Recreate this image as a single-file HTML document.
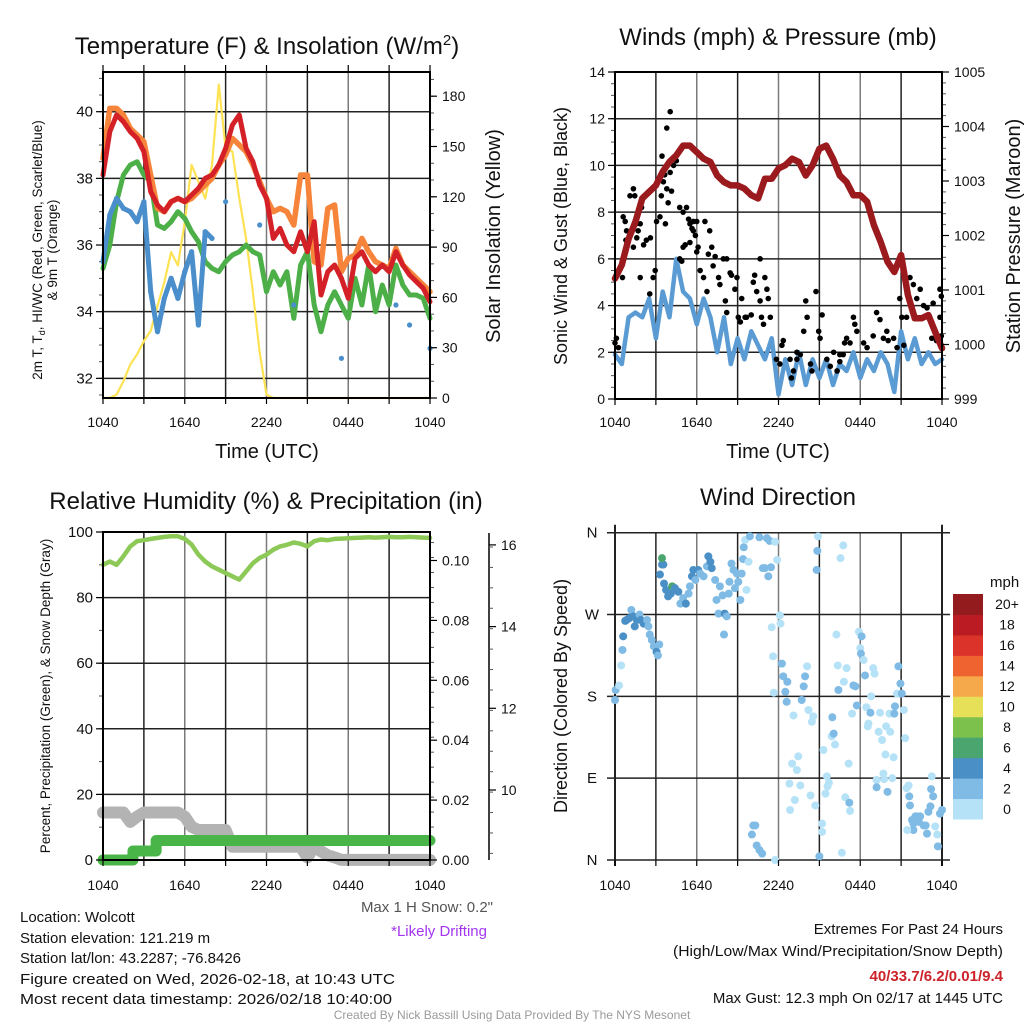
<!DOCTYPE html>
<html><head><meta charset="utf-8"><style>
html,body{margin:0;padding:0;background:#fff;}
svg{display:block;font-family:"Liberation Sans",sans-serif;}
</style></head><body>
<svg id="chart" xmlns="http://www.w3.org/2000/svg" width="1024" height="1024" viewBox="0 0 1024 1024">
<rect x="0" y="0" width="1024" height="1024" fill="#fff"/>
<g id="p1"></g>
<g id="p2"></g>
<g id="p3"></g>
<g id="p4"></g>
<g font-size="24" text-anchor="middle" fill="#111">
<text x="267" y="54">Temperature (F) &amp; Insolation (W/m<tspan dy="-9" font-size="15">2</tspan><tspan dy="9">)</tspan></text>
<text x="778" y="45">Winds (mph) &amp; Pressure (mb)</text>
<text x="266" y="509">Relative Humidity (%) &amp; Precipitation (in)</text>
<text x="778" y="505">Wind Direction</text>
</g>
<g fill="#111">
<text transform="translate(42,250) rotate(-90)" text-anchor="middle" font-size="13.5">2m T, T<tspan dy="3" font-size="9">d</tspan><tspan dy="-3">, HI/WC (Red, Green, Scarlet/Blue)</tspan></text>
<text transform="translate(57,250) rotate(-90)" text-anchor="middle" font-size="13.5">&amp; 9m T (Orange)</text>
<text transform="translate(500,236) rotate(-90)" text-anchor="middle" font-size="20">Solar Insolation (Yellow)</text>
<text x="267" y="458" text-anchor="middle" font-size="20">Time (UTC)</text>
<text transform="translate(567,236) rotate(-90)" text-anchor="middle" font-size="18">Sonic Wind &amp; Gust (Blue, Black)</text>
<text transform="translate(1020,236) rotate(-90)" text-anchor="middle" font-size="20">Station Pressure (Maroon)</text>
<text x="778" y="458" text-anchor="middle" font-size="20">Time (UTC)</text>
<text transform="translate(50,696) rotate(-90)" text-anchor="middle" font-size="13.5">Percent, Precipitation (Green), &amp; Snow Depth (Gray)</text>
<text transform="translate(567,696) rotate(-90)" text-anchor="middle" font-size="18">Direction (Colored By Speed)</text>
<text x="990" y="587" font-size="15">mph</text>
</g>
<g font-size="15" fill="#111">
<text x="20" y="922">Location: Wolcott</text>
<text x="20" y="943">Station elevation: 121.219 m</text>
<text x="20" y="963">Station lat/lon: 43.2287; -76.8426</text>
<text x="20" y="984" textLength="375" lengthAdjust="spacingAndGlyphs">Figure created on Wed, 2026-02-18, at 10:43 UTC</text>
<text x="20" y="1004" textLength="372" lengthAdjust="spacingAndGlyphs">Most recent data timestamp: 2026/02/18 10:40:00</text>
<text x="493" y="912" text-anchor="end" fill="#555">Max 1 H Snow: 0.2"</text>
<text x="487" y="936" text-anchor="end" fill="#a335f0">*Likely Drifting</text>
<text x="1003" y="934" text-anchor="end">Extremes For Past 24 Hours</text>
<text x="1003" y="956" text-anchor="end" textLength="330" lengthAdjust="spacingAndGlyphs">(High/Low/Max Wind/Precipitation/Snow Depth)</text>
<text x="1003" y="981" text-anchor="end" fill="#cc2229" font-weight="bold">40/33.7/6.2/0.01/9.4</text>
<text x="1003" y="1003" text-anchor="end">Max Gust: 12.3 mph On 02/17 at 1445 UTC</text>
<text x="512" y="1019" text-anchor="middle" font-size="12" fill="#9a9a9a">Created By Nick Bassill Using Data Provided By The NYS Mesonet</text>
</g>
</svg>
<script>
// ---------- shared time categories (hours since 1040 UTC) ----------
const halfHours = [0,0.5,1,1.5,2,2.5,3,3.5,4,4.5,5,5.5,6,6.5,7,7.5,8,8.5,9,9.5,10,10.5,11,11.5,12,12.5,13,13.5,14,14.5,15,15.5,16,16.5,17,17.5,18,18.5,19,19.5,20,20.5,21,21.5,22,22.5,23,23.5,24];
const timeTickHours = [0,6,12,18,24];
const timeTickLabels = ["1040","1640","2240","0440","1040"];
// ---------- panel 1 ----------
const temp9m = [38.6,40.1,40.1,39.9,39.5,39.3,39.1,38.1,37.1,37.0,37.3,37.4,37.3,37.4,37.6,37.8,38.0,38.4,38.7,39.2,39.0,38.8,38.4,37.9,37.4,37.0,37.1,37.0,36.6,38.1,38.1,35.5,35.4,37.1,37.2,35.2,35.6,35.7,36.2,35.8,35.5,35.4,35.3,35.9,35.4,35.2,35.0,34.8,34.6];
const temp2m = [38.1,39.4,39.9,39.7,39.4,39.2,38.8,37.6,37.2,37.0,37.3,37.4,37.3,37.5,37.7,38.0,38.1,38.4,38.9,39.6,39.9,38.9,38.5,37.8,37.4,36.2,36.5,36.0,35.8,36.4,35.8,36.7,34.5,35.2,35.4,35.0,34.4,35.6,35.8,35.4,35.2,35.4,35.2,35.8,35.4,35.1,34.9,34.7,34.3];
const dewPoint = [35.3,36.0,37.3,38.1,38.4,38.5,38.1,37.9,36.6,36.5,36.7,37.0,36.8,36.4,36.1,35.5,35.3,35.2,35.5,35.7,35.8,36.0,35.8,35.7,34.6,35.2,34.8,35.2,33.8,35.4,35.8,34.2,33.4,34.2,34.6,34.2,33.8,35.0,34.2,35.4,34.0,34.8,34.2,35.4,34.8,34.5,34.5,34.4,33.8];
const windChill = [35.5,36.9,37.4,37.1,37.0,36.7,37.3,34.6,33.4,34.4,35.0,34.4,35.2,35.8,33.6,36.4,36.2,null,37.3,null,null,null,null,36.6,null,null,null,null,34.2,null,null,null,null,null,null,32.6,null,null,null,null,null,null,null,34.2,null,33.6,null,null,32.9];
const solar = [0,0,2,10,20,26,34,40,55,69,87,79,105,139,129,119,139,187,149,147,119,95,63,27,2,0,0,0,0,0,0,0,0,0,0,0,0,0,0,0,0,0,0,0,0,0,0,0,0];
const tempTicks = [32,34,36,38,40];
const solarTicks = [0,30,60,90,120,150,180];
// ---------- panel 2 ----------
const sonicWind = [1.9,1.5,3.5,3.7,3.5,4.3,2.6,4.6,3.5,6.0,4.6,4.3,3.2,4.3,3.5,2.0,3.5,1.5,2.6,1.7,2.9,2.3,1.7,2.6,0.2,1.7,0.6,2.0,0.6,1.7,0.9,1.7,0.6,1.5,1.2,2.0,0.9,1.7,1.2,2.0,1.5,0.3,2.9,1.7,2.6,1.5,2.0,1.5,1.7];
const pressure = [1001.21,1001.46,1001.94,1002.25,1002.68,1002.80,1002.92,1003.17,1003.35,1003.47,1003.65,1003.65,1003.53,1003.41,1003.35,1003.10,1002.98,1002.92,1002.92,1002.86,1002.74,1002.68,1003.04,1003.04,1003.23,1003.29,1003.41,1003.35,1003.10,1003.29,1003.59,1003.65,1003.41,1003.10,1002.98,1002.74,1002.74,1002.62,1002.19,1001.88,1001.52,1001.33,1001.64,1000.91,1000.48,1000.48,1000.54,1000.23,999.93];
const gustHours = [0,0.1,0.25,0.55,0.6,0.75,0.85,0.8,1.1,1.35,1.45,1.55,1.7,1.85,1.95,1.35,1.6,2.1,2.3,2.6,1.85,2.55,2.8,2.95,3.05,3.3,3.4,3.55,3.65,3.8,3.9,4.05,4.15,4.3,3.8,4.05,3.45,3.7,4.5,4.75,5.0,5.25,5.4,5.5,5.65,5.75,5.9,6.0,5.0,5.15,5.5,5.75,6.0,6.1,4.75,4.9,6.6,6.95,6.85,7.1,7.35,7.95,8.2,6.25,6.5,6.75,7.2,7.6,7.7,8.1,8.2,8.45,8.55,8.8,8.95,9.3,9.55,9.05,9.2,9.65,10.15,10.25,10.4,10.65,10.75,11.0,11.15,11.25,11.4,10.0,10.65,10.9,11.85,12.1,12.25,12.35,12.85,12.95,13.1,13.35,13.6,13.85,14.0,14.1,14.35,14.45,14.75,14.95,15.05,15.2,15.55,15.8,16.05,16.3,16.5,16.75,16.85,17.0,17.25,17.5,17.6,17.75,18.25,18.5,18.95,19.2,19.45,19.7,19.95,20.05,20.45,20.7,20.9,21.05,21.2,21.4,21.65,21.9,22.15,22.4,22.65,22.9,23.1,23.25,23.35,23.6,23.85,23.95,23.85,23.95,16.5,13.35];
const gustMph = [2.4,2.6,2.2,5.2,7.8,7.6,7.2,6.8,8.7,9.0,8.7,7.5,7.2,7.5,8.2,6.5,6.9,6.6,6.8,6.9,5.2,4.5,5.2,5.5,7.6,7.8,8.7,9.3,9.6,9.0,8.4,9.7,8.9,10.0,11.6,12.3,10.4,7.5,10.2,8.2,8.0,8.2,7.7,7.5,7.3,7.6,7.0,7.6,6.5,6.6,6.7,7.2,6.3,6.5,6.0,5.9,7.6,7.2,6.2,6.5,6.1,6.0,6.0,5.5,5.2,4.6,5.7,5.2,4.9,4.2,3.7,5.4,5.3,4.7,5.2,4.3,3.5,3.5,3.3,3.5,5.0,5.3,4.6,4.2,3.5,5.2,4.7,4.3,3.5,3.6,6.0,3.2,1.7,1.5,2.3,2.5,1.7,0.9,1.2,2.0,1.9,2.9,4.2,3.5,1.5,1.2,4.6,2.9,2.6,3.6,1.7,1.4,2.0,1.2,1.6,1.9,2.4,2.6,2.4,3.5,3.2,2.9,2.4,2.2,2.7,3.7,3.4,2.6,2.9,2.5,2.6,2.2,4.3,3.5,2.3,3.5,5.2,4.9,4.3,4.7,4.0,3.9,3.5,2.6,4.1,2.5,4.7,4.4,3.5,2.7,1.9,1.7];
const windTicks = [0,2,4,6,8,10,12,14];
const pressureTicks = [999,1000,1001,1002,1003,1004,1005];
// ---------- panel 3 ----------
const humidity = [90.0,91.0,90.0,92.6,95.6,97.2,97.5,97.9,98.2,98.5,98.7,98.7,97.9,96.2,93.1,91.0,89.5,88.5,87.5,86.5,85.5,88.0,90.5,92.1,93.1,94.6,95.6,96.1,96.8,96.4,95.6,97.2,97.7,97.5,97.9,98.0,98.1,98.2,98.3,98.4,98.3,98.4,98.5,98.4,98.4,98.5,98.4,98.3,98.2];
const snowDepth = [9.45,9.45,9.45,9.45,9.22,9.35,9.45,9.45,9.45,9.45,9.45,9.45,9.35,9.1,9.02,9.02,9.02,9.02,9.02,8.61,8.61,8.61,8.61,8.61,8.61,8.61,8.61,8.61,8.61,8.61,8.35,8.61,8.5,8.4,8.35,8.29,8.29,8.29,8.29,8.29,8.29,8.29,8.29,8.29,8.29,8.29,8.29,8.29,8.29];
const precipStepHours = [0,2.2,3.9,24];
const precipInches = [0,0.003,0.0065,0.0065];
const percentTicks = [0,20,40,60,80,100];
const precipTicks = [0.00,0.02,0.04,0.06,0.08,0.10];
const precipTickLabels = ["0.00","0.02","0.04","0.06","0.08","0.10"];
const snowTicks = [10,12,14,16];
// ---------- panel 4 ----------
const dirHours = [0,0.05,0.3,0.45,0.55,0.6,0.75,0.85,1.05,1.2,1.35,1.45,1.6,1.8,1.9,2.1,2.35,2.45,2.55,2.7,2.85,3.05,3.15,3.25,3.3,3.45,3.55,3.45,3.6,3.75,3.9,4.1,4.2,4.4,4.65,4.8,5.0,5.2,5.4,5.5,5.65,5.75,5.9,6.1,6.25,6.5,6.75,6.85,7.0,7.1,7.35,7.45,7.6,7.7,7.9,8.05,8.2,8.0,8.35,8.4,8.55,8.7,8.8,8.95,9.05,9.2,9.3,9.4,9.45,9.55,9.65,9.8,9.9,10.15,10.05,10.3,10.4,10.6,10.8,10.6,10.85,11.0,11.15,11.25,11.35,11.45,11.5,11.6,11.65,11.75,11.75,11.9,12.1,12.15,12.25,12.35,12.5,12.6,12.65,12.85,12.8,13.0,13.1,13.2,13.35,13.45,13.6,13.7,13.85,13.95,14.1,14.2,14.35,14.45,14.55,14.7,14.8,14.85,14.9,15.0,15.2,15.2,15.3,15.45,15.55,15.6,15.7,15.9,15.95,16.05,16.15,16.25,16.35,16.4,16.55,16.65,16.75,16.8,16.9,17.0,17.15,17.2,17.25,17.4,17.5,17.65,17.75,17.9,18.0,18.1,18.05,18.25,18.35,18.45,18.55,18.6,18.75,18.8,18.95,19.05,19.2,19.2,19.35,19.45,19.6,19.7,19.75,19.85,19.9,20.0,20.15,20.2,20.35,20.45,20.5,20.55,20.7,20.8,20.95,21.05,21.2,21.3,21.4,21.55,21.6,21.65,21.8,21.9,22.05,22.15,22.3,22.4,22.65,22.8,22.9,23.0,23.15,23.25,23.2,23.35,23.5,23.65,23.7,23.85,24.0,21.45,21.9];
const dirDegrees = [176,187,192,214,231,246,263,264,266,275,268,257,264,270,264,260,264,257,248,242,235,229,225,237,314,325,325,332,304,297,290,293,301,299,295,282,288,282,293,301,312,319,308,319,315,312,323,334,328,321,308,286,271,301,291,271,268,248,293,306,326,319,299,315,306,286,315,331,344,352,297,328,356,38,28,38,16,11,7,355,321,321,354,312,351,322,256,224,184,350,0,330,269,260,216,202,185,174,196,55,84,106,159,66,99,114,82,176,191,202,213,165,71,152,158,60,319,340,356,4,40,31,121,73,92,81,85,136,157,139,127,248,214,187,332,8,346,196,69,211,106,63,54,161,192,191,170,251,233,246,227,220,203,168,147,150,162,180,211,205,88,80,141,162,132,95,89,116,147,75,161,141,90,113,161,169,183,213,194,183,165,134,79,82,70,60,44,33,48,48,42,48,38,38,29,53,59,92,78,70,37,28,15,51,55,33,40];
const dirSpeed = [3,3,1,1,3,5,5,5,5,3,5,5,5,3,5,5,3,3,3,3,3,5,3,3,5,5,5,7,5,5,5,5,7,5,5,3,3,5,3,3,5,5,3,5,3,3,3,5,5,5,3,3,3,3,3,5,3,3,3,3,3,3,3,3,3,3,3,3,3,1,1,1,3,3,3,3,3,3,3,3,3,3,3,3,3,3,1,1,1,1,1,1,1,1,3,3,3,3,3,1,1,1,1,1,1,1,1,3,3,3,1,1,1,1,1,1,3,3,1,3,1,1,1,1,1,1,1,1,3,3,1,1,1,3,1,1,1,1,1,1,1,3,1,1,3,3,3,1,1,3,3,1,3,1,1,1,3,1,1,1,1,3,1,1,1,1,1,1,1,3,1,1,1,1,3,3,1,3,3,3,1,1,1,1,3,3,3,3,3,3,3,3,3,3,3,3,3,1,3,3,1,1,3,3,3,1,3];
const dirTicks = [0,90,180,270,360];
const dirTickLabels = ["N","E","S","W","N"];
const speedBinLabels = ["0","2","4","6","8","10","12","14","16","18","20+"];
const speedBinColors = ["#b6e2f7","#7fbbe4","#4a8fc6","#4aa66e","#7dc14d","#e6df58","#f5a94a","#ee6330","#db3229","#bb1c24","#931a1d"];

const NS = "http://www.w3.org/2000/svg";
function mk(parent, tag, attrs, text) {
  const el = document.createElementNS(NS, tag);
  for (const k in attrs) el.setAttribute(k, attrs[k]);
  if (text !== undefined) el.textContent = text;
  parent.appendChild(el);
  return el;
}
function pathFrom(xs, ys, xf, yf) {
  let d = "", pen = false;
  for (let i = 0; i < xs.length; i++) {
    if (ys[i] === null) { pen = false; continue; }
    d += (pen ? "L" : "M") + xf(xs[i]).toFixed(1) + "," + yf(ys[i]).toFixed(1);
    pen = true;
  }
  return d;
}
function frame(g, L, R, T, B, vgrid, hgrid) {
  vgrid.forEach(function (x, i) {
    const l = mk(g, "line", {x1: x, x2: x, y1: T, y2: B, stroke: i % 2 ? "#7a7a7a" : "#222", "stroke-width": 1.5});
    
    
  });
  hgrid.forEach(function (y) {
    const l = mk(g, "line", {x1: L, x2: R, y1: y, y2: y, stroke: "#222", "stroke-width": 1.5});
    
    
  });
}
function border(g, L, R, T, B) {
  const r = mk(g, "rect", {x: L, y: T, width: R - L, height: B - T, fill: "none", stroke: "#000", "stroke-width": 2});
  
  
}
function xTicks(g, xf, B, T, labelY, top) {
  for (let h = 0; h <= 24; h += 3) {
    const x = xf(h);
    const t = mk(g, "line", {x1: x, x2: x, y1: B, y2: B + 6, stroke: "#000", "stroke-width": 1.2});
    
    
    if (top) {
      const t2 = mk(g, "line", {x1: x, x2: x, y1: T - 7, y2: T, stroke: "#000", "stroke-width": 1.2});
      
      
    }
  }
  timeTickHours.forEach(function (h, i) {
    const tx = mk(g, "text", {x: xf(h), y: labelY, "text-anchor": "middle", "font-size": 14, fill: "#111"}, timeTickLabels[i]);
    
    
  });
}
function yTicksLeft(g, vals, labels, yf, L, fs) {
  vals.forEach(function (v, i) {
    const y = yf(v);
    const t = mk(g, "line", {x1: L - 7, x2: L, y1: y, y2: y, stroke: "#000", "stroke-width": 1.2});
    
    
    const tx = mk(g, "text", {x: L - 10, y: y + 5, "text-anchor": "end", "font-size": fs, fill: "#111"}, labels[i]);
    
    
  });
}
function yTicksRight(g, vals, labels, yf, R, fs) {
  vals.forEach(function (v, i) {
    const y = yf(v);
    const t = mk(g, "line", {x1: R, x2: R + 7, y1: y, y2: y, stroke: "#000", "stroke-width": 1.2});
    
    
    const tx = mk(g, "text", {x: R + 12, y: y + 5, "text-anchor": "start", "font-size": fs, fill: "#111"}, labels[i]);
    
    
  });
}
function minorTicks(g, x, y0, y1, step, dir) {
  for (let y = y0; y <= y1 + 0.1; y += step) {
    const t = mk(g, "line", {x1: x, x2: x + dir * 4, y1: y, y2: y, stroke: "#555", "stroke-width": 1});
    
    
  }
}
function line(g, d, color, w, name) {
  const p = mk(g, "path", {d: d, fill: "none", stroke: color, "stroke-width": w, "stroke-linejoin": "round", "stroke-linecap": "round"});
  
  
  return p;
}
const vgridHours = [3,6,9,12,15,18,21];

// ======== PANEL 1 ========
(function () {
  const g = document.getElementById("p1");
  const L = 103, R = 430, T = 72, B = 398;
  const x = function (h) { return L + h / 24 * (R - L); };
  const yT = function (v) { return 111.7 + (40 - v) * 33.33; };
  const yS = function (w) { return B - w / 30 * 50.3; };
  frame(g, L, R, T, B, vgridHours.map(x), tempTicks.map(yT));
  minorTicks(g, L, yT(41), yT(31.5), 33.33 / 2, -1);
  minorTicks(g, R, yS(190), yS(0), 50.3 / 3, 1);
  line(g, pathFrom(halfHours, solar, x, yS), "#fde353", 2.2, "solar-insolation-line");
  line(g, pathFrom(halfHours, dewPoint, x, yT), "#4caf48", 5, "dewpoint-line");
  line(g, pathFrom(halfHours, temp9m, x, yT), "#f6843a", 5.5, "temp-9m-line");
  line(g, pathFrom(halfHours, temp2m, x, yT), "#d42128", 5, "temp-2m-line");
  line(g, pathFrom(halfHours, windChill, x, yT), "#4a8fcb", 5, "wind-chill-line");
  halfHours.forEach(function (h, i) {
    if (windChill[i] === null) return;
    const c = mk(g, "circle", {cx: x(h), cy: yT(windChill[i]), r: 2.6, fill: "#4a8fcb"});
    
    
  });
  border(g, L, R, T, B);
  xTicks(g, x, B, T, 427, true);
  yTicksLeft(g, tempTicks, tempTicks.map(String), yT, L, 15);
  yTicksRight(g, solarTicks, solarTicks.map(String), yS, R, 14);
})();

// ======== PANEL 2 ========
(function () {
  const g = document.getElementById("p2");
  const L = 615, R = 942, T = 72, B = 399;
  const x = function (h) { return L + h / 24 * (R - L); };
  const yW = function (v) { return B - v * (B - T) / 14; };
  const yP = function (p) { return B - (p - 999) * (B - T) / 6; };
  frame(g, L, R, T, B, vgridHours.map(x), windTicks.map(yW));
  minorTicks(g, L, T, B, (B - T) / 28, -1);
  minorTicks(g, R, T, B, (B - T) / 30, 1);
  line(g, pathFrom(halfHours, sonicWind, x, yW), "#5b9bd3", 4.5, "sonic-wind-line");
  gustHours.forEach(function (h, i) {
    const c = mk(g, "circle", {cx: x(h), cy: yW(gustMph[i]), r: 2.8, fill: "#000"});
    
    
  });
  line(g, pathFrom(halfHours, pressure, x, yP), "#9b1a1d", 6.5, "pressure-line");
  border(g, L, R, T, B);
  xTicks(g, x, B, T, 427, false);
  yTicksLeft(g, windTicks, windTicks.map(String), yW, L, 14);
  yTicksRight(g, pressureTicks, pressureTicks.map(String), yP, R, 14);
})();

// ======== PANEL 3 ========
(function () {
  const g = document.getElementById("p3");
  const L = 103, R = 430, T = 532, B = 860;
  const x = function (h) { return L + h / 24 * (R - L); };
  const yR = function (v) { return B - v * (B - T) / 100; };
  const yPr = function (p) { return B - p / 0.02 * 59.9; };
  const ySn = function (s) { return 790 - (s - 10) * 40.85; };
  frame(g, L, R, T, B, vgridHours.map(x), percentTicks.map(yR));
  minorTicks(g, L, yR(110), B, (B - T) / 10, -1);
  minorTicks(g, R, yPr(0.106), B, 59.9 / 4, 1);
  const sp = mk(g, "line", {x1: 489, x2: 489, y1: 533, y2: 860, stroke: "#000", "stroke-width": 1.5});
  
  
  minorTicks(g, 489, 547, 860, 40.85 / 2, 1);
  yTicksRight(g, snowTicks, snowTicks.map(String), ySn, 489, 14);
  let d = "";
  for (let i = 0; i < precipStepHours.length; i++) {
    const px = x(precipStepHours[i]), py = yPr(precipInches[i]);
    if (i === 0) d += "M" + px + "," + py;
    else d += "L" + px + "," + yPr(precipInches[i - 1]) + "L" + px + "," + py;
  }
  line(g, pathFrom(halfHours, snowDepth, x, ySn), "#b3b3b3", 12, "snow-depth-line");
  line(g, d, "#49b548", 11, "precipitation-line");
  line(g, pathFrom(halfHours, humidity, x, yR), "#8cc957", 4.5, "relative-humidity-line");
  border(g, L, R, T, B);
  xTicks(g, x, B, T, 890, false);
  yTicksLeft(g, percentTicks, percentTicks.map(String), yR, L, 15);
  yTicksRight(g, precipTicks, precipTickLabels, yPr, R, 14);
})();

// ======== PANEL 4 ========
(function () {
  const g = document.getElementById("p4");
  const L = 615, R = 942, T = 532.7, B = 860;
  const x = function (h) { return L + h / 24 * (R - L); };
  const yD = function (dg) { return B - dg / 360 * (B - T); };
  frame(g, L - 8, R + 8, T, B, vgridHours.map(x), dirTicks.map(yD));
  [L, R].forEach(function (xx) {
    const l = mk(g, "line", {x1: xx, x2: xx, y1: T - 8, y2: B + 6, stroke: "#222", "stroke-width": 2});
    
    
  });
  dirHours.forEach(function (h, i) {
    const bin = Math.min(10, Math.floor(dirSpeed[i] / 2));
    const c = mk(g, "circle", {cx: x(h), cy: yD(dirDegrees[i]), r: 4, fill: speedBinColors[bin]});
    
    
  });
  for (let h = 0; h <= 24; h += 3) {
    const t = mk(g, "line", {x1: x(h), x2: x(h), y1: B, y2: B + 6, stroke: "#000", "stroke-width": 1.2});
    
    
  }
  timeTickHours.forEach(function (h, i) {
    const tx = mk(g, "text", {x: x(h), y: 890, "text-anchor": "middle", "font-size": 14, fill: "#111"}, timeTickLabels[i]);
    
    
  });
  dirTicks.forEach(function (dg, i) {
    const tx = mk(g, "text", {x: 592, y: yD(dg) + 5, "text-anchor": "middle", "font-size": 15, fill: "#111"}, dirTickLabels[i]);
    
    
  });
  const cbTop = 594, cbH = 225 / 11;
  speedBinColors.forEach(function (col, i) {
    const yy = cbTop + (10 - i) * cbH;
    const r = mk(g, "rect", {x: 953, y: yy, width: 30, height: cbH + 0.5, fill: col});
    
    
    const tx = mk(g, "text", {x: 1007, y: yy + cbH / 2 + 5, "text-anchor": "middle", "font-size": 14, fill: "#111"}, speedBinLabels[i]);
    
    
  });
})();
</script>
</body></html>
